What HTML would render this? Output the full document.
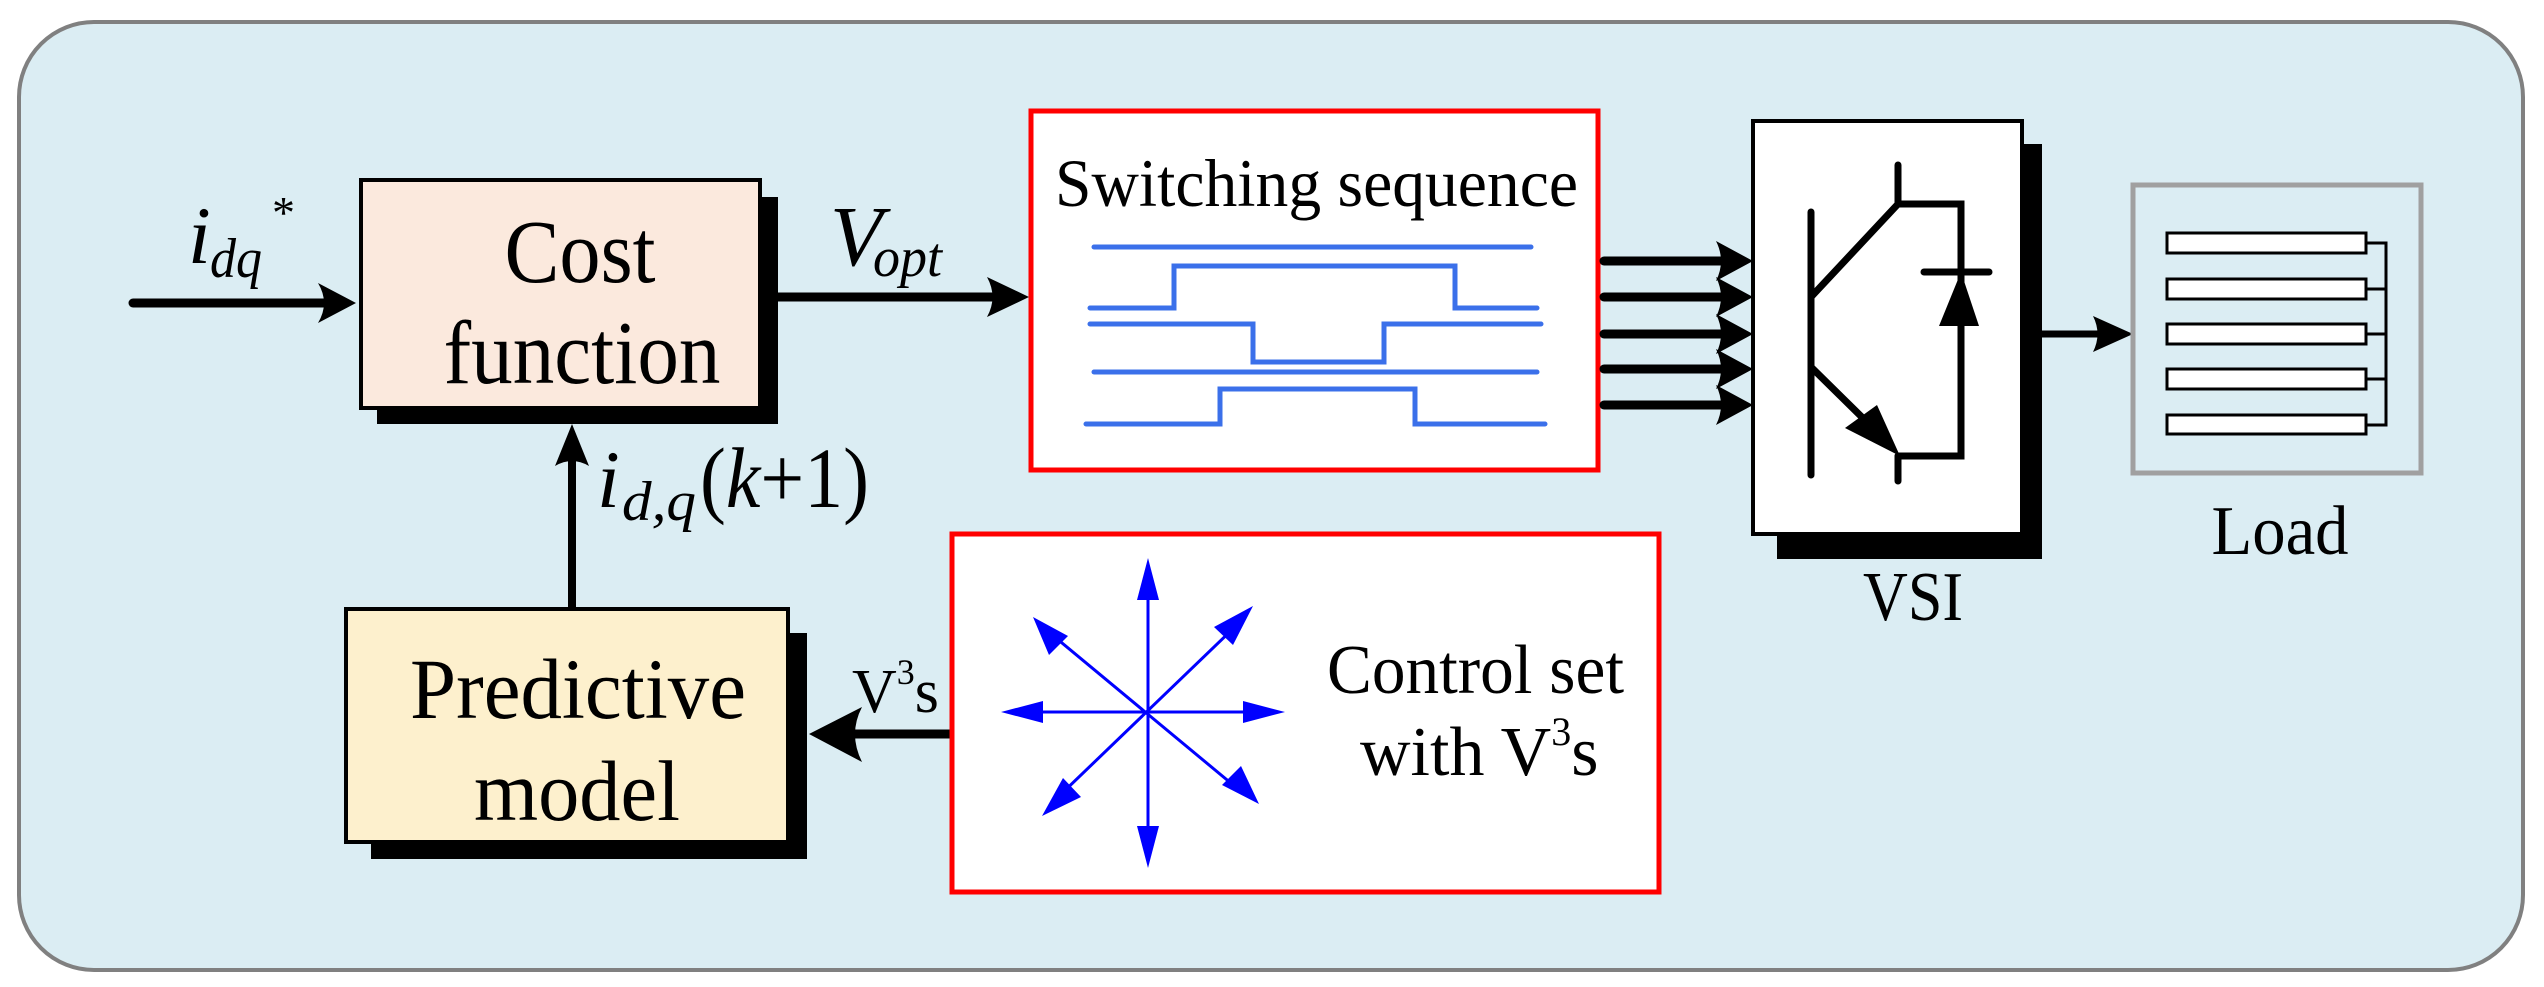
<!DOCTYPE html>
<html><head><meta charset="utf-8"><style>
html,body{margin:0;padding:0;background:#fff}
svg{display:block}
svg text, svg tspan{font-family:"Liberation Serif","Times New Roman","DejaVu Serif",serif;fill:#000}
</style></head><body>
<svg width="2544" height="987" viewBox="0 0 2544 987" xmlns="http://www.w3.org/2000/svg" font-family="Liberation Serif, Times New Roman, serif">
<rect x="19" y="22" width="2504" height="948" rx="75" ry="75" fill="#dbedf3" stroke="#808080" stroke-width="4"/>

<!-- Cost function -->
<rect x="377" y="197" width="401" height="227" fill="#000"/>
<rect x="361" y="180" width="399" height="228" fill="#fbe9dd" stroke="#000" stroke-width="4"/>
<text x="580" y="282" font-size="90" text-anchor="middle" textLength="151" lengthAdjust="spacingAndGlyphs">Cost</text>
<text x="582" y="383" font-size="90" text-anchor="middle" textLength="277" lengthAdjust="spacingAndGlyphs">function</text>

<!-- input arrow -->
<line x1="133" y1="303" x2="330" y2="303" stroke="#000" stroke-width="9" stroke-linecap="round"/>
<path d="M356 303 L318 283 Q330 303 318 323 Z" fill="#000"/>
<text x="188" y="263" font-size="82" font-style="italic">i</text>
<text x="210" y="277" font-size="56" font-style="italic" textLength="52" lengthAdjust="spacingAndGlyphs">dq</text>
<text x="272" y="228" font-size="46">*</text>

<!-- Vopt arrow -->
<line x1="778" y1="297" x2="995" y2="297" stroke="#000" stroke-width="9"/>
<path d="M1029 297 L987 277 Q998 297 987 317 Z" fill="#000"/>
<text x="830" y="265" font-size="86" font-style="italic">V</text>
<text x="873" y="276" font-size="56" font-style="italic" textLength="69" lengthAdjust="spacingAndGlyphs">opt</text>

<!-- Switching sequence -->
<rect x="1031" y="111" width="567" height="359" fill="#fff" stroke="#ff0000" stroke-width="5"/>
<text x="1055" y="206" font-size="68" textLength="523" lengthAdjust="spacingAndGlyphs">Switching sequence</text>
<g fill="none" stroke="#3b70ea" stroke-width="5" stroke-linecap="round">
<polyline points="1094,247 1531,247"/>
<polyline points="1090,308 1174,308 1174,266 1455,266 1455,308 1537,308"/>
<polyline points="1090,324 1253,324 1253,362 1384,362 1384,324 1541,324"/>
<polyline points="1094,372 1537,372"/>
<polyline points="1086,424 1220,424 1220,389 1415,389 1415,424 1545,424"/>
</g>

<!-- five arrows -->
<g stroke="#000" stroke-width="9" stroke-linecap="round">
<line x1="1604" y1="261" x2="1735" y2="261"/>
<line x1="1604" y1="297" x2="1735" y2="297"/>
<line x1="1604" y1="334" x2="1735" y2="334"/>
<line x1="1604" y1="369" x2="1735" y2="369"/>
<line x1="1604" y1="405" x2="1735" y2="405"/>
</g>
<g fill="#000">
<path d="M1753 261 L1716 241 Q1726 261 1716 281 Z"/>
<path d="M1753 297 L1716 277 Q1726 297 1716 317 Z"/>
<path d="M1753 334 L1716 314 Q1726 334 1716 354 Z"/>
<path d="M1753 369 L1716 349 Q1726 369 1716 389 Z"/>
<path d="M1753 405 L1716 385 Q1726 405 1716 425 Z"/>
</g>

<!-- VSI -->
<rect x="1777" y="144" width="265" height="415" fill="#000"/>
<rect x="1753" y="121" width="269" height="413" fill="#fff" stroke="#000" stroke-width="4"/>
<g stroke="#000" stroke-width="7" fill="none" stroke-linecap="round">
<line x1="1811" y1="212" x2="1811" y2="475"/>
<line x1="1811" y1="297" x2="1898" y2="204"/>
<line x1="1898" y1="165" x2="1898" y2="204"/>
<polyline points="1898,204 1961,204 1961,456 1898,456"/>
<line x1="1898" y1="456" x2="1898" y2="481"/>
<line x1="1811" y1="367" x2="1875" y2="430"/>
<line x1="1924" y1="272" x2="1989" y2="272"/>
</g>
<path d="M1900 456 L1845 428 L1877 405 Z" fill="#000"/>
<path d="M1961 272 L1939 326 L1979 326 Z" fill="#000"/>
<text x="1913" y="620" font-size="70" text-anchor="middle" textLength="100" lengthAdjust="spacingAndGlyphs">VSI</text>

<!-- output arrow -->
<line x1="2042" y1="334" x2="2110" y2="334" stroke="#000" stroke-width="7"/>
<path d="M2133 334 L2093 316 Q2102 334 2093 352 Z" fill="#000"/>

<!-- Load -->
<rect x="2133" y="185" width="288" height="288" fill="none" stroke="#a0a0a0" stroke-width="5"/>
<g fill="#fff" stroke="#000" stroke-width="3">
<rect x="2167" y="233" width="199" height="20"/>
<rect x="2167" y="279" width="199" height="20"/>
<rect x="2167" y="324" width="199" height="20"/>
<rect x="2167" y="369" width="199" height="20"/>
<rect x="2167" y="415" width="199" height="19"/>
</g>
<g stroke="#000" stroke-width="3" fill="none">
<polyline points="2366,243 2386,243 2386,425 2366,425"/>
<line x1="2366" y1="289" x2="2386" y2="289"/>
<line x1="2366" y1="334" x2="2386" y2="334"/>
<line x1="2366" y1="379" x2="2386" y2="379"/>
</g>
<text x="2280" y="554" font-size="70" text-anchor="middle" textLength="137" lengthAdjust="spacingAndGlyphs">Load</text>

<!-- feedback arrow -->
<line x1="572" y1="609" x2="572" y2="450" stroke="#000" stroke-width="8"/>
<path d="M572 424 L555 466 Q572 456 589 466 Z" fill="#000"/>
<text x="597" y="507" font-size="82" font-style="italic">i</text>
<text x="622" y="520" font-size="56" font-style="italic" textLength="74" lengthAdjust="spacingAndGlyphs">d,q</text>
<text x="700" y="507" font-size="86" textLength="169" lengthAdjust="spacingAndGlyphs">(<tspan font-style="italic">k</tspan>+1)</text>

<!-- Predictive model -->
<rect x="371" y="633" width="436" height="226" fill="#000"/>
<rect x="346" y="609" width="442" height="233" fill="#fdf0cd" stroke="#000" stroke-width="4"/>
<text x="578" y="718" font-size="86" text-anchor="middle" textLength="336" lengthAdjust="spacingAndGlyphs">Predictive</text>
<text x="577" y="820" font-size="86" text-anchor="middle" textLength="206" lengthAdjust="spacingAndGlyphs">model</text>

<!-- V3s arrow -->
<line x1="954" y1="734" x2="840" y2="734" stroke="#000" stroke-width="9" stroke-linecap="round"/>
<path d="M809 734 L862 707 Q848 734 862 762 Z" fill="#000"/>
<text x="852" y="712" font-size="62">V<tspan font-size="36" dy="-28">3</tspan><tspan dy="28">s</tspan></text>

<!-- Control set -->
<rect x="952" y="534" width="707" height="358" fill="#fff" stroke="#ff0000" stroke-width="5"/>
<g stroke="#0000ff" stroke-width="3">
<line x1="1148" y1="580" x2="1148" y2="846"/>
<line x1="1023" y1="712" x2="1263" y2="712"/>
<line x1="1050" y1="633" x2="1244" y2="794"/>
<line x1="1240" y1="622" x2="1055" y2="800"/>
</g>
<g fill="#0000ff">
<path d="M1148 558 L1137 600 L1159 600 Z"/>
<path d="M1148 868 L1137 826 L1159 826 Z"/>
<path d="M1001 712 L1043 701 L1043 723 Z"/>
<path d="M1285 712 L1243 701 L1243 723 Z"/>
<path d="M1033 617 L1049 655 L1068 636 Z"/>
<path d="M1253 606 L1233 645 L1214 627 Z"/>
<path d="M1042 816 L1063 778 L1081 797 Z"/>
<path d="M1259 804 L1241 766 L1222 785 Z"/>
</g>
<text x="1327" y="693" font-size="70" textLength="297" lengthAdjust="spacingAndGlyphs">Control set</text>
<text x="1360" y="775" font-size="70">with V<tspan font-size="40" dy="-30">3</tspan><tspan dy="30">s</tspan></text>
</svg>
</body></html>
